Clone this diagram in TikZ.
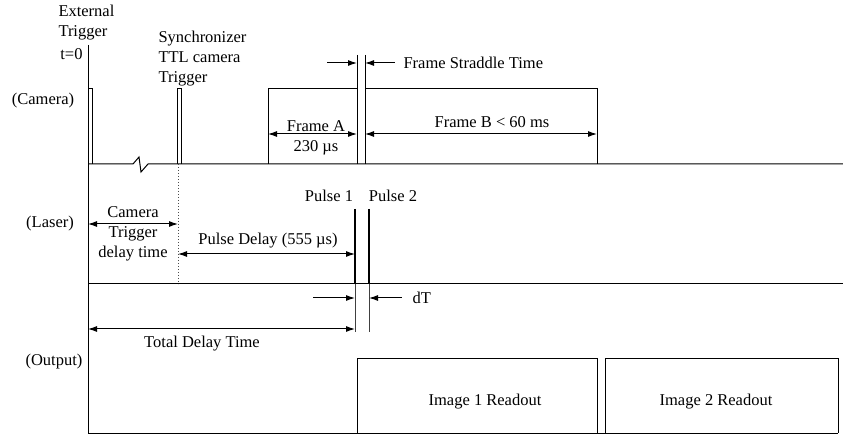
\documentclass[tikz,border=0pt]{standalone}
\usepackage{fontspec}
\setmainfont{Liberation Serif}
\usetikzlibrary{arrows.meta}

\begin{document}
\begin{tikzpicture}[x=1pt,y=-1pt,>={Latex[length=9pt,width=6pt]},line width=1pt,
    every node/.style={inner sep=0pt,font=\fontsize{16.5}{20}\selectfont},
    pulse/.style={line width=2.6pt},
    gap line/.style={line width=0.9pt,black!75}]
    \useasboundingbox (0,0) rectangle (843,435);
    % time axis and baselines
    \coordinate (t0) at (88,45);
    \coordinate (t0 bot) at (88,433);
    \coordinate (cam) at (88,164);
    \coordinate (cam end) at (843,164);
    \coordinate (las) at (88,284);
    \coordinate (las end) at (843,284);
    \coordinate (out end) at (838,433);
    \draw (t0) -- (t0 bot) -- (out end);
    \draw (cam) -- (133,164) -- (139,157) -- (141,172) -- (148,164) -- (cam end);
    \draw (las) -- (las end);

    % camera row
    \draw (cam) |- (92,89) -- (92,164);
    \draw (177,164) |- (181,89) -- (181,164);
    \draw[dotted,black!70] (178,164) coordinate (sync) -- (178,284) coordinate (sync bot);
    \draw (268,164) |- (357,89);
    \draw (597,164) |- (365,89);
    \draw (357,55) coordinate (a top) -- (357,164) coordinate (a end);
    \draw (365,55) coordinate (b top) -- (365,164) coordinate (b start);

    \node[align=left,anchor=north west] (ext) at (58,5) {External\\Trigger};
    \node[anchor=east] (tzero) at (83,54) {t=0};
    \node[align=left,anchor=north west] (synctxt) at (158,31) {Synchronizer\\TTL camera\\Trigger};
    \node (camlbl) at (43,101) {(Camera)};

    \draw[<-] (357,63) -- (327,63);
    \draw[<-] (365,63) -- (395,63) node[anchor=west,xshift=8pt] (fst) {Frame Straddle Time};
    \draw[<->] (268,134) coordinate (a start) -- (357,134);
    \node (fa) at (316,126) {Frame A};
    \node (fat) at (316,148) {230 µs};
    \draw[<->] (365,134) -- (597,134);
    \node (fb) at (492,122) {Frame B < 60 ms};

    % laser row
    \node (laslbl) at (50,224) {(Laser)};
    \draw[pulse] (355,209) coordinate (p1) -- (355,284);
    \draw[pulse] (369,209) coordinate (p2) -- (369,284);
    \node (p1txt) at (329,196) {Pulse 1};
    \node (p2txt) at (393,196) {Pulse 2};
    \node[align=center] (ctd) at (133,234) {Camera\\Trigger\\delay time};
    \draw[<->] (88,224) -- (178,224);
    \draw[<->] (178,254) -- (355,254);
    \node (pdl) at (268,241) {Pulse Delay (555 µs)};

    % output row
    \draw[gap line] (355,284) -- (355,332);
    \draw[gap line] (369,284) -- (369,332);
    \draw[<-] (355,298) -- (313,298);
    \draw[<-] (369,298) -- (402,298) node[anchor=west,xshift=10pt] (dt) {dT};
    \draw[<->] (88,329) -- (355,329);
    \node (tdt) at (202,344) {Total Delay Time};
    \node (outlbl) at (54,362) {(Output)};
    \draw (357,433) |- (597,359) -- (597,433);
    \draw (605,433) |- (838,359) -- (out end);
    \node (img1) at (485,402) {Image 1 Readout};
    \node (img2) at (716,402) {Image 2 Readout};
\end{tikzpicture}
\end{document}
